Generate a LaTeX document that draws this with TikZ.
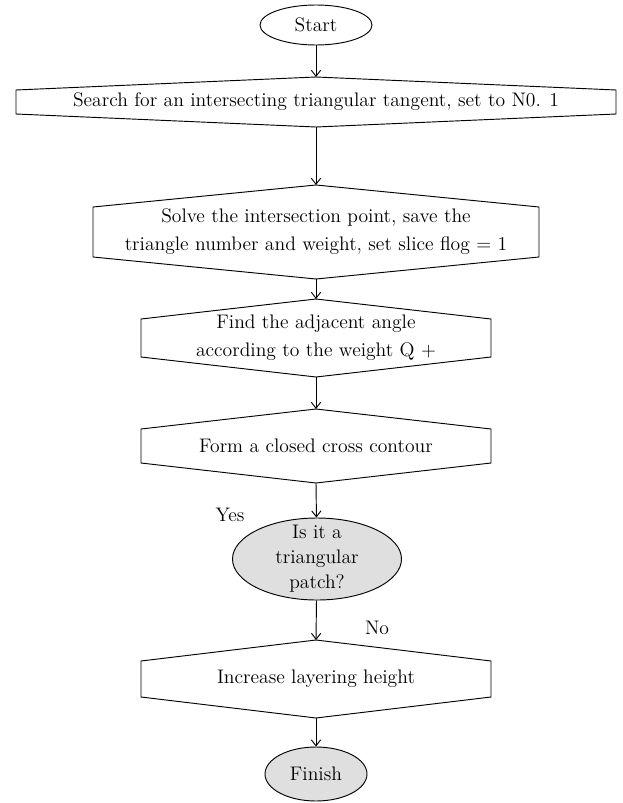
\documentclass[tikz,border=0pt]{standalone}
\usetikzlibrary{shapes.geometric,arrows.meta,calc}

\tikzset{
  flow/.style={draw=black, line width=0.7pt, -{Straight Barb[length=4.5pt,width=7pt]}},
  boxline/.style={draw=black, line width=0.7pt},
  lbl/.style={font=\fontsize{14.7}{21}\selectfont, align=center, inner sep=0pt},
  term/.style={ellipse, draw=black, line width=0.7pt, inner sep=0pt, font=\fontsize{14.7}{21}\selectfont},
  shaded/.style={fill=gray!25}
}

% outline with a point on top and bottom: name, half width, half side, point
\newcommand{\peakbox}[4]{%
  \draw[boxline] ($(#1)+(-#2,-#3)$) -- ($(#1)+(0,-#3-#4)$) coordinate (#1-top)
    -- ($(#1)+(#2,-#3)$) -- ($(#1)+(#2,#3)$) -- ($(#1)+(0,#3+#4)$) coordinate (#1-bot)
    -- ($(#1)+(-#2,#3)$) -- cycle;}

\begin{document}
\begin{tikzpicture}[x=0.75pt, y=-0.75pt]
	  \useasboundingbox (0,0) rectangle (622,803);
	  \node[term, minimum width=84pt, minimum height=30pt] (start) at (316,25) {Start};
	  \node[lbl] (search) at (316,102) {Search for an intersecting triangular tangent, set to N0. 1};
	  \peakbox{search}{300}{12}{13}
	  \node[lbl] (solve) at (316,232) {Solve the intersection point, save the\\triangle number and weight, set slice flog = 1};
	  \peakbox{solve}{223}{25}{22}
	  \node[lbl] (adjacent) at (316,338) {Find the adjacent angle\\according to the weight Q +};
	  \peakbox{adjacent}{175}{19}{20}
	  \node[lbl] (contour) at (316,446) {Form a closed cross contour};
	  \peakbox{contour}{175}{17}{20}
	  \node[term, shaded, minimum width=126.75pt, minimum height=61.5pt] (patch) at (317,559) {};
	  \node[lbl, font=\fontsize{14.7}{18.8}\selectfont] (patchtext) at (patch) {Is it a\\triangular\\patch?};
	  \node[lbl] (height) at (316,679) {Increase layering height};
	  \peakbox{height}{175}{18}{21}
	  \node[term, shaded, minimum width=76.5pt, minimum height=40.5pt] (finish) at (316,774) {Finish};
	  \node[lbl] (yes) at (230,515) {Yes};
	  \node[lbl] (no) at (377,628) {No};
	  \draw[flow] (start) -- (search-top);
	  \draw[flow] (search-bot) -- (solve-top);
	  \draw[flow] (solve-bot) -- (adjacent-top);
	  \draw[flow] (adjacent-bot) -- (contour-top);
	  \draw[flow] (contour-bot) -- (patch);
	  \draw[flow] (patch) -- (height-top);
	  \draw[flow] (height-bot) -- (finish);
	\end{tikzpicture}
\end{document}
